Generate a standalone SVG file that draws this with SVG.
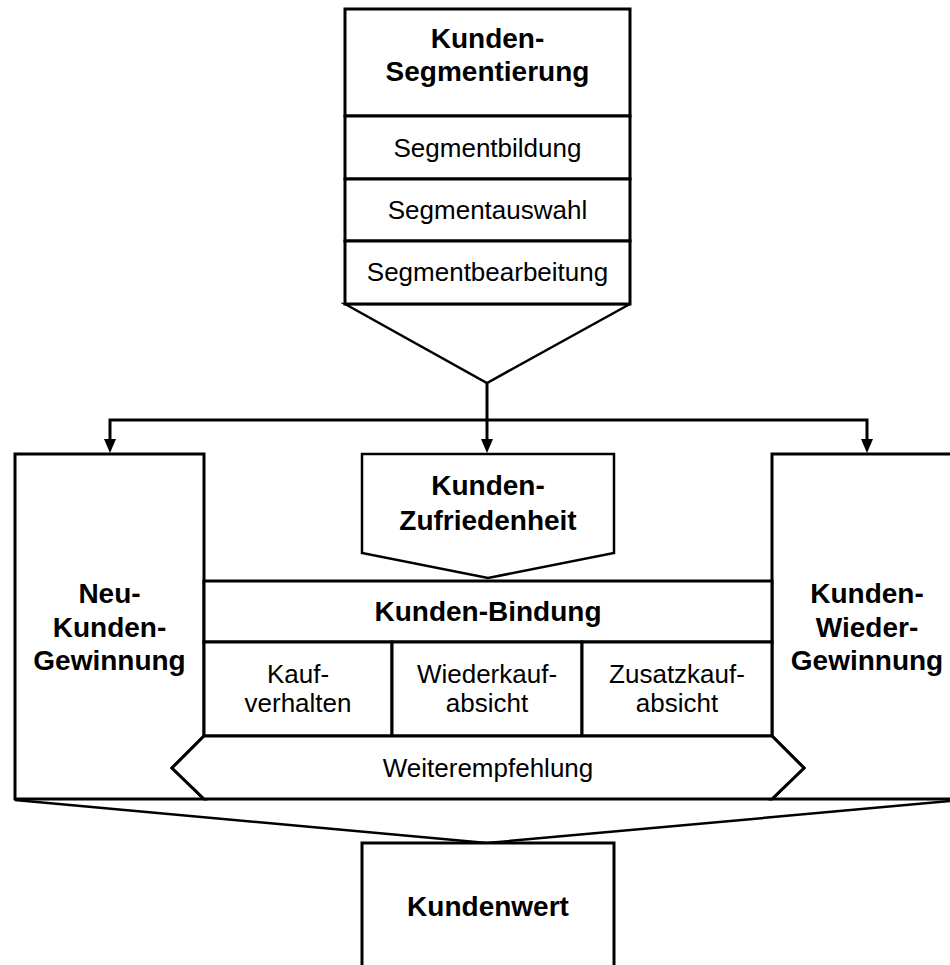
<svg xmlns="http://www.w3.org/2000/svg" width="950" height="965" viewBox="0 0 950 965">
<defs>
<marker id="arr" viewBox="0 0 14 12" refX="1" refY="6" markerWidth="14" markerHeight="12" markerUnits="userSpaceOnUse" orient="auto">
<path d="M0,0 L14,6 L0,12 Z" fill="#000"/>
</marker>
</defs>
<style>
.box{fill:#fff;stroke:#000;stroke-width:3;stroke-linejoin:miter}
.thin{fill:#fff;stroke:#000;stroke-width:2.5}
.ln{fill:none;stroke:#000;stroke-width:2.5}
.cn{fill:none;stroke:#000;stroke-width:3}
.b{font-family:"Liberation Sans",Arial,sans-serif;font-weight:bold;font-size:28px;text-anchor:middle;fill:#000}
.r{font-family:"Liberation Sans",Arial,sans-serif;font-size:26px;text-anchor:middle;fill:#000}
</style>
<rect width="950" height="965" fill="#fff"/>

<g id="segmentierung">
<path class="thin" d="M345,304 L487,383 L630,304 Z"/>
<rect class="box" x="345" y="9" width="285" height="107"/>
<text class="b" x="487.5" y="48">Kunden-</text>
<text class="b" x="487.5" y="81">Segmentierung</text>
<rect class="box" x="345" y="116" width="285" height="63"/>
<text class="r" x="487.5" y="157">Segmentbildung</text>
<rect class="box" x="345" y="179" width="285" height="62"/>
<text class="r" x="487.5" y="219">Segmentauswahl</text>
<rect class="box" x="345" y="241" width="285" height="63"/>
<text class="r" x="487.5" y="281">Segmentbearbeitung</text>
</g>

<g id="connectors">
<path class="cn" d="M487,383 V440" marker-end="url(#arr)"/>
<path class="cn" d="M487,420 H110 V440" marker-end="url(#arr)"/>
<path class="cn" d="M487,420 H867 V440" marker-end="url(#arr)"/>
<path class="ln" d="M15,800 L487,843 L962,800"/>
</g>

<g id="neukunden">
<path class="box" d="M15,454 H204 V736 L172,768 L204,799 H15 Z"/>
<text class="b" x="109.5" y="603">Neu-</text>
<text class="b" x="109.5" y="637">Kunden-</text>
<text class="b" x="109.5" y="670">Gewinnung</text>
</g>

<g id="wiedergewinnung">
<path class="box" d="M772,454 H965 V799 H772 L804,768 L772,736 Z"/>
<text class="b" x="867" y="603">Kunden-</text>
<text class="b" x="867" y="637">Wieder-</text>
<text class="b" x="867" y="670">Gewinnung</text>
</g>

<g id="zufriedenheit">
<path class="thin" d="M362,454 H614 V553 L488,578 L362,553 Z"/>
<text class="b" x="488" y="495">Kunden-</text>
<text class="b" x="488" y="530">Zufriedenheit</text>
</g>

<g id="bindung">
<rect class="box" x="204" y="581" width="568" height="61"/>
<text class="b" x="488" y="621">Kunden-Bindung</text>
</g>

<g id="kaufverhalten">
<rect class="box" x="204" y="642" width="188" height="94"/>
<text class="r" x="298" y="683">Kauf-</text>
<text class="r" x="298" y="712">verhalten</text>
</g>
<g id="wiederkaufabsicht">
<rect class="box" x="392" y="642" width="190" height="94"/>
<text class="r" x="487" y="683">Wiederkauf-</text>
<text class="r" x="487" y="712">absicht</text>
</g>
<g id="zusatzkaufabsicht">
<rect class="box" x="582" y="642" width="190" height="94"/>
<text class="r" x="677" y="683">Zusatzkauf-</text>
<text class="r" x="677" y="712">absicht</text>
</g>

<g id="weiterempfehlung">
<path class="box" d="M204,736 H772 L804,768 L772,799 H204 L172,768 Z"/>
<text class="r" x="488" y="777">Weiterempfehlung</text>
</g>

<g id="kundenwert">
<rect class="box" x="362" y="843" width="252" height="140"/>
<text class="b" x="488" y="916">Kundenwert</text>
</g>
</svg>
